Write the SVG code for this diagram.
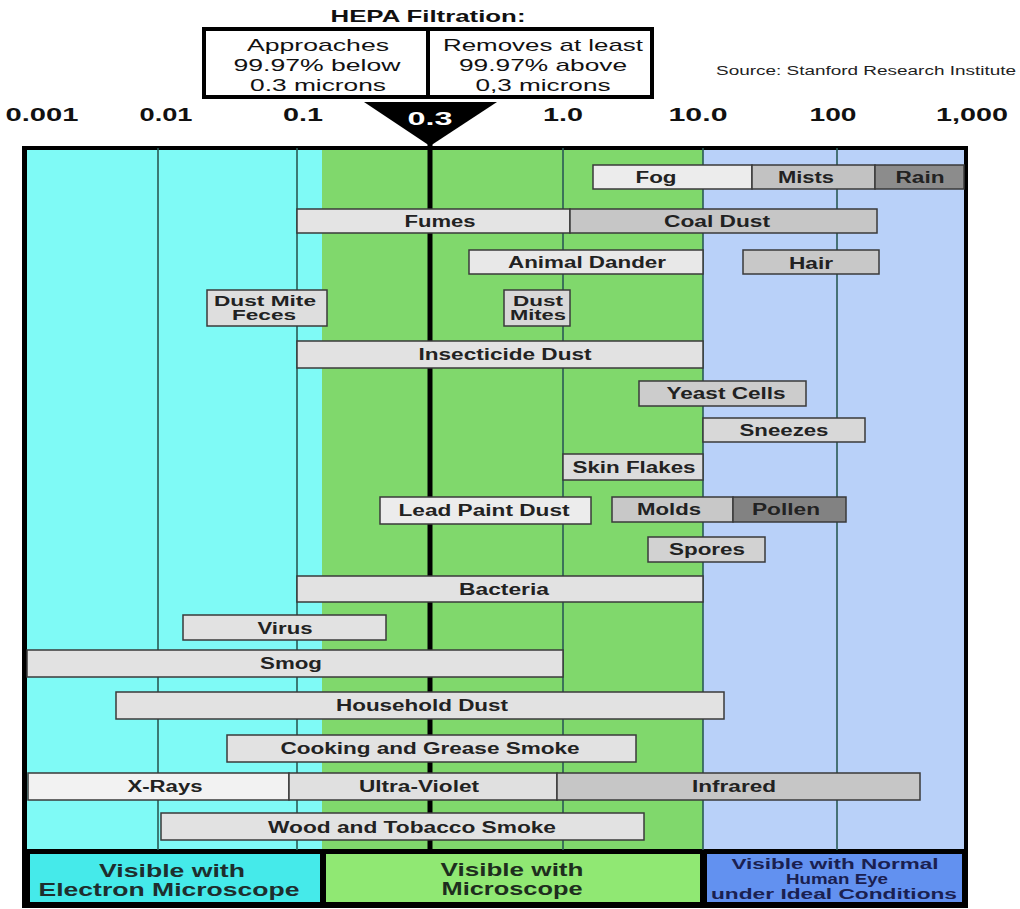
<svg xmlns="http://www.w3.org/2000/svg" width="1020" height="909" viewBox="0 0 1020 909">
<style>
text{font-family:"Liberation Sans",Arial,sans-serif;}
.b{stroke:#3a3a3a;stroke-width:1.5;}
.l{font-size:16px;font-weight:bold;fill:#222;text-anchor:middle;}
.l2{font-size:14.5px;font-weight:bold;fill:#222;text-anchor:middle;}
.ax{font-size:19px;font-weight:bold;fill:#111;text-anchor:middle;}
.g{stroke:#2a5a55;stroke-width:1.6;}
.h{font-size:17px;fill:#111;text-anchor:middle;}
</style>
<rect width="1020" height="909" fill="#fff"/>
<g id="background">
<rect x="22" y="146" width="946" height="762" fill="#000"/>
<rect x="27" y="150" width="295" height="699" fill="#7ffaf6"/>
<rect x="322" y="150" width="381" height="699" fill="#80d86c"/>
<rect x="703" y="150" width="261" height="699" fill="#b9d1f9"/>
</g>
<g id="gridlines">
<line class="g" x1="158" y1="148" x2="158" y2="850"/>
<line class="g" x1="297" y1="148" x2="297" y2="850"/>
<line class="g" x1="563" y1="148" x2="563" y2="850"/>
<line class="g" x1="703" y1="148" x2="703" y2="850"/>
<line class="g" x1="837" y1="148" x2="837" y2="850"/>
<line x1="430" y1="140" x2="430" y2="850" stroke="#000" stroke-width="5"/>
</g>
<g id="header">
<text x="428" y="22" font-size="17" font-weight="bold" text-anchor="middle" fill="#111" textLength="195" lengthAdjust="spacingAndGlyphs">HEPA Filtration:</text>
<rect x="204" y="29" width="448" height="68" fill="#fff" stroke="#000" stroke-width="4"/>
<line x1="428" y1="29" x2="428" y2="97" stroke="#000" stroke-width="4"/>
<text class="h" x="318" y="51" textLength="142" lengthAdjust="spacingAndGlyphs">Approaches</text>
<text class="h" x="317" y="71" textLength="167" lengthAdjust="spacingAndGlyphs">99.97% below</text>
<text class="h" x="318" y="91" textLength="136" lengthAdjust="spacingAndGlyphs">0.3 microns</text>
<text class="h" x="543" y="51" textLength="200" lengthAdjust="spacingAndGlyphs">Removes at least</text>
<text class="h" x="543" y="71" textLength="168" lengthAdjust="spacingAndGlyphs">99.97% above</text>
<text class="h" x="543" y="91" textLength="135" lengthAdjust="spacingAndGlyphs">0,3 microns</text>
<text x="866" y="75" font-size="12" fill="#222" text-anchor="middle" textLength="300" lengthAdjust="spacingAndGlyphs">Source:  Stanford Research Institute</text>
<polygon points="364,102 497,102 430,146" fill="#000"/>
<text x="430" y="125" font-size="19" font-weight="bold" fill="#fff" text-anchor="middle" textLength="45" lengthAdjust="spacingAndGlyphs">0.3</text>
<text class="ax" x="42" y="121" textLength="73" lengthAdjust="spacingAndGlyphs">0.001</text>
<text class="ax" x="166" y="121" textLength="53" lengthAdjust="spacingAndGlyphs">0.01</text>
<text class="ax" x="303" y="121" textLength="40" lengthAdjust="spacingAndGlyphs">0.1</text>
<text class="ax" x="563" y="121" textLength="40" lengthAdjust="spacingAndGlyphs">1.0</text>
<text class="ax" x="698" y="121" textLength="59" lengthAdjust="spacingAndGlyphs">10.0</text>
<text class="ax" x="833" y="121" textLength="47" lengthAdjust="spacingAndGlyphs">100</text>
<text class="ax" x="972" y="121" textLength="72" lengthAdjust="spacingAndGlyphs">1,000</text>
</g>
<g id="bars">
<g id="fog"><rect class="b" x="593" y="165" width="159" height="24" fill="#ececec"/><text class="l" x="656" y="183" textLength="41" lengthAdjust="spacingAndGlyphs">Fog</text></g>
<g id="mists"><rect class="b" x="752" y="165" width="123" height="24" fill="#c2c2c2"/><text class="l" x="806" y="183" textLength="56" lengthAdjust="spacingAndGlyphs">Mists</text></g>
<g id="rain"><rect class="b" x="875" y="165" width="89" height="24" fill="#8c8c8c"/><text class="l" x="920" y="183" textLength="49" lengthAdjust="spacingAndGlyphs">Rain</text></g>
<g id="fumes"><rect class="b" x="297" y="209" width="273" height="24" fill="#e4e4e4"/><text class="l" x="440" y="227" textLength="71" lengthAdjust="spacingAndGlyphs">Fumes</text></g>
<g id="coal"><rect class="b" x="570" y="209" width="307" height="24" fill="#c6c6c6"/><text class="l" x="717" y="227" textLength="106" lengthAdjust="spacingAndGlyphs">Coal Dust</text></g>
<g id="dander"><rect class="b" x="469" y="250" width="234" height="24" fill="#e8e8e8"/><text class="l" x="587" y="268" textLength="158" lengthAdjust="spacingAndGlyphs">Animal Dander</text></g>
<g id="hair"><rect class="b" x="743" y="250" width="136" height="24" fill="#c8c8c8"/><text class="l" x="811" y="269" textLength="44" lengthAdjust="spacingAndGlyphs">Hair</text></g>
<g id="feces"><rect class="b" x="207" y="290" width="120" height="36" fill="#dedede"/><text class="l2" x="265" y="306" textLength="102" lengthAdjust="spacingAndGlyphs">Dust Mite</text><text class="l2" x="264" y="320" textLength="64" lengthAdjust="spacingAndGlyphs">Feces</text></g>
<g id="mites"><rect class="b" x="504" y="290" width="66" height="36" fill="#d8d8d8"/><text class="l2" x="538" y="306" textLength="50" lengthAdjust="spacingAndGlyphs">Dust</text><text class="l2" x="538" y="320" textLength="56" lengthAdjust="spacingAndGlyphs">Mites</text></g>
<g id="insecticide"><rect class="b" x="297" y="341" width="406" height="27" fill="#e2e2e2"/><text class="l" x="505" y="360" textLength="173" lengthAdjust="spacingAndGlyphs">Insecticide Dust</text></g>
<g id="yeast"><rect class="b" x="639" y="381" width="167" height="25" fill="#cccccc"/><text class="l" x="726" y="399" textLength="119" lengthAdjust="spacingAndGlyphs">Yeast Cells</text></g>
<g id="sneezes"><rect class="b" x="703" y="418" width="162" height="24" fill="#d8d8d8"/><text class="l" x="784" y="436" textLength="89" lengthAdjust="spacingAndGlyphs">Sneezes</text></g>
<g id="skin"><rect class="b" x="563" y="454" width="140" height="26" fill="#dcdcdc"/><text class="l" x="634" y="473" textLength="123" lengthAdjust="spacingAndGlyphs">Skin Flakes</text></g>
<g id="lead"><rect class="b" x="380" y="497" width="211" height="27" fill="#ececec"/><text class="l" x="484" y="516" textLength="171" lengthAdjust="spacingAndGlyphs">Lead Paint Dust</text></g>
<g id="molds"><rect class="b" x="612" y="497" width="121" height="25" fill="#c8c8c8"/><text class="l" x="669" y="515" textLength="64" lengthAdjust="spacingAndGlyphs">Molds</text></g>
<g id="pollen"><rect class="b" x="733" y="497" width="113" height="25" fill="#828282"/><text class="l" x="786" y="515" textLength="68" lengthAdjust="spacingAndGlyphs">Pollen</text></g>
<g id="spores"><rect class="b" x="648" y="537" width="117" height="25" fill="#d2d2d2"/><text class="l" x="707" y="555" textLength="76" lengthAdjust="spacingAndGlyphs">Spores</text></g>
<g id="bacteria"><rect class="b" x="297" y="576" width="406" height="26" fill="#e2e2e2"/><text class="l" x="504" y="595" textLength="90" lengthAdjust="spacingAndGlyphs">Bacteria</text></g>
<g id="virus"><rect class="b" x="183" y="615" width="203" height="25" fill="#e2e2e2"/><text class="l" x="285" y="634" textLength="55" lengthAdjust="spacingAndGlyphs">Virus</text></g>
<g id="smog"><rect class="b" x="27" y="650" width="536" height="27" fill="#e2e2e2"/><text class="l" x="291" y="669" textLength="62" lengthAdjust="spacingAndGlyphs">Smog</text></g>
<g id="household"><rect class="b" x="116" y="692" width="608" height="27" fill="#e2e2e2"/><text class="l" x="422" y="711" textLength="172" lengthAdjust="spacingAndGlyphs">Household Dust</text></g>
<g id="cooking"><rect class="b" x="227" y="735" width="409" height="27" fill="#e2e2e2"/><text class="l" x="430" y="754" textLength="299" lengthAdjust="spacingAndGlyphs">Cooking and Grease Smoke</text></g>
<g id="xrays"><rect class="b" x="28" y="773" width="261" height="27" fill="#f2f2f2"/><text class="l" x="165" y="792" textLength="75" lengthAdjust="spacingAndGlyphs">X-Rays</text></g>
<g id="uv"><rect class="b" x="289" y="773" width="268" height="27" fill="#e0e0e0"/><text class="l" x="419" y="792" textLength="120" lengthAdjust="spacingAndGlyphs">Ultra-Violet</text></g>
<g id="infrared"><rect class="b" x="557" y="773" width="363" height="27" fill="#c6c6c6"/><text class="l" x="734" y="792" textLength="84" lengthAdjust="spacingAndGlyphs">Infrared</text></g>
<g id="wood"><rect class="b" x="161" y="813" width="483" height="27" fill="#e2e2e2"/><text class="l" x="412" y="833" textLength="288" lengthAdjust="spacingAndGlyphs">Wood and Tobacco Smoke</text></g>
</g>
<g id="legend">
<rect x="30" y="854" width="290" height="48" fill="#45eaea"/>
<text x="172" y="877" font-size="18" font-weight="bold" fill="#1e2e2e" text-anchor="middle" textLength="146" lengthAdjust="spacingAndGlyphs">Visible with</text>
<text x="169" y="896" font-size="18" font-weight="bold" fill="#1e2e2e" text-anchor="middle" textLength="261" lengthAdjust="spacingAndGlyphs">Electron Microscope</text>
<rect x="326" y="854" width="374" height="48" fill="#90e873"/>
<text x="512" y="876" font-size="18" font-weight="bold" fill="#1e2e1e" text-anchor="middle" textLength="143" lengthAdjust="spacingAndGlyphs">Visible with</text>
<text x="512" y="895" font-size="18" font-weight="bold" fill="#1e2e1e" text-anchor="middle" textLength="141" lengthAdjust="spacingAndGlyphs">Microscope</text>
<rect x="707" y="854" width="255" height="48" fill="#6291f0"/>
<text x="835" y="869" font-size="14" font-weight="bold" fill="#1a2050" text-anchor="middle" textLength="207" lengthAdjust="spacingAndGlyphs">Visible with Normal</text>
<text x="837" y="884" font-size="14" font-weight="bold" fill="#1a2050" text-anchor="middle" textLength="102" lengthAdjust="spacingAndGlyphs">Human Eye</text>
<text x="834" y="899" font-size="14" font-weight="bold" fill="#1a2050" text-anchor="middle" textLength="246" lengthAdjust="spacingAndGlyphs">under Ideal Conditions</text>
</g>
</svg>
